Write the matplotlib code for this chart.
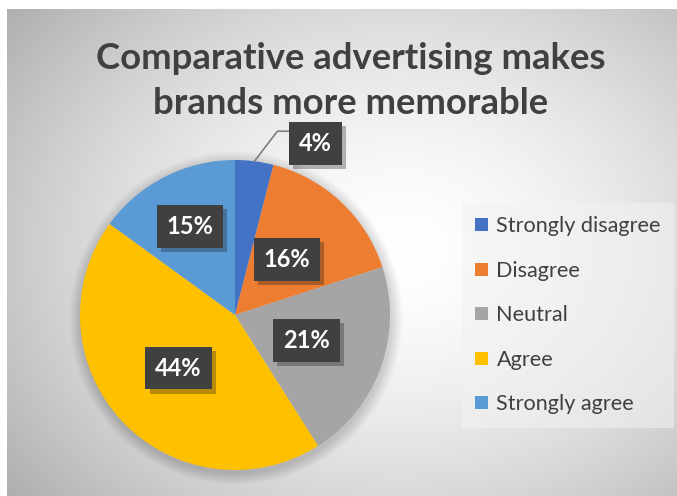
import numpy as np
import matplotlib
matplotlib.use("Agg")
import matplotlib.pyplot as plt
import matplotlib.patheffects as pe
from matplotlib.patches import Circle

# ── Survey data ───────────────────────────────────────────────────────────────
categories = ["Strongly disagree", "Disagree", "Neutral", "Agree", "Strongly agree"]
shares = [4, 16, 21, 44, 15]
colors = ["#4472c4", "#ed7d31", "#a5a5a5", "#ffc000", "#5b9bd5"]
title = "Comparative advertising makes\nbrands more memorable"

plt.rcParams["font.family"] = ["Lato", "DejaVu Sans"]

W, H = 677, 496
fig = plt.figure(figsize=(W / 100, H / 100), dpi=100)
ax = fig.add_axes([0, 0, 1, 1])

# ── Background: white margin + radial grey gradient ──────────────────────────
x0, y0 = 7, 9   # chart area top-left (pixels)
gx, gy = np.meshgrid(np.arange(x0, W), np.arange(y0, H))
cx, cy = 400, 250
r = np.hypot((gx - cx) / 420.0, (gy - cy) / 330.0)
shade = 1.0 - 0.24 * np.clip(r, 0, 1.3) ** 1.6
img = np.dstack([shade] * 3)
ax.imshow(img, extent=(x0, W, 0, H - y0), origin="upper", zorder=0,
          interpolation="bilinear")

pie_c = (235, H - 315)
pie_r = 155

# soft drop shadow under the pie
for k in range(1, 14):
    ax.add_patch(Circle((pie_c[0] + 1, pie_c[1] - 3), pie_r + k * 0.9,
                        color="black", alpha=0.012, lw=0, zorder=1))

wedges, _ = ax.pie(shares, colors=colors, startangle=90, counterclock=False,
                   center=pie_c, radius=pie_r,
                   wedgeprops=dict(linewidth=0, zorder=2))

# ── Data labels ───────────────────────────────────────────────────────────────
label_dist = [None, 0.49, 0.49, 0.50, 0.64]
box_kw = dict(boxstyle="square,pad=0.42", fc="#404040", lw=0)


def put_label(x, y, s):
    t = ax.text(x, y, s, ha="center", va="center", fontsize=17,
                fontweight="bold", color="white", bbox=box_kw, zorder=5)
    t.get_bbox_patch().set_path_effects(
        [pe.SimplePatchShadow(offset=(3, -3), alpha=0.3), pe.Normal()])


for w, v, d in zip(wedges, shares, label_dist):
    ang = np.deg2rad((w.theta1 + w.theta2) / 2)
    ex = pie_c[0] + pie_r * np.cos(ang)
    ey = pie_c[1] + pie_r * np.sin(ang)
    if d is None:
        # small slice: label outside with a leader line
        tx, ty = ex + 61, ey + 18
        ax.plot([ex, ex + 23, tx - 26], [ey, ey + 30, ey + 30],
                color="#7f7f7f", lw=1.2, zorder=3)
        put_label(tx, ty, f"{v}%")
    else:
        put_label(pie_c[0] + d * pie_r * np.cos(ang),
                  pie_c[1] + d * pie_r * np.sin(ang), f"{v}%")

# ── Title ─────────────────────────────────────────────────────────────────────
ax.text(351, H - 81, title, ha="center", va="center", fontsize=26.3,
        fontweight="bold", color="#404040", linespacing=1.45, zorder=5)

# ── Legend ────────────────────────────────────────────────────────────────────
leg = ax.legend(wedges, categories, loc="upper left",
                bbox_to_anchor=(462 / W, 1 - 203 / H), bbox_transform=fig.transFigure,
                fontsize=15.6, frameon=True, fancybox=False, labelspacing=1.13,
                handlelength=0.57, handleheight=0.57, handletextpad=0.4,
                borderpad=0.62, borderaxespad=0)
leg.get_frame().set_facecolor("#f2f2f2")
leg.get_frame().set_alpha(0.55)
leg.get_frame().set_linewidth(0)
for t in leg.get_texts():
    t.set_color("#404040")

ax.set_xlim(0, W)
ax.set_ylim(0, H)
ax.set_aspect("auto")
ax.axis("off")

fig.savefig("out.png", dpi=100, facecolor="white")
